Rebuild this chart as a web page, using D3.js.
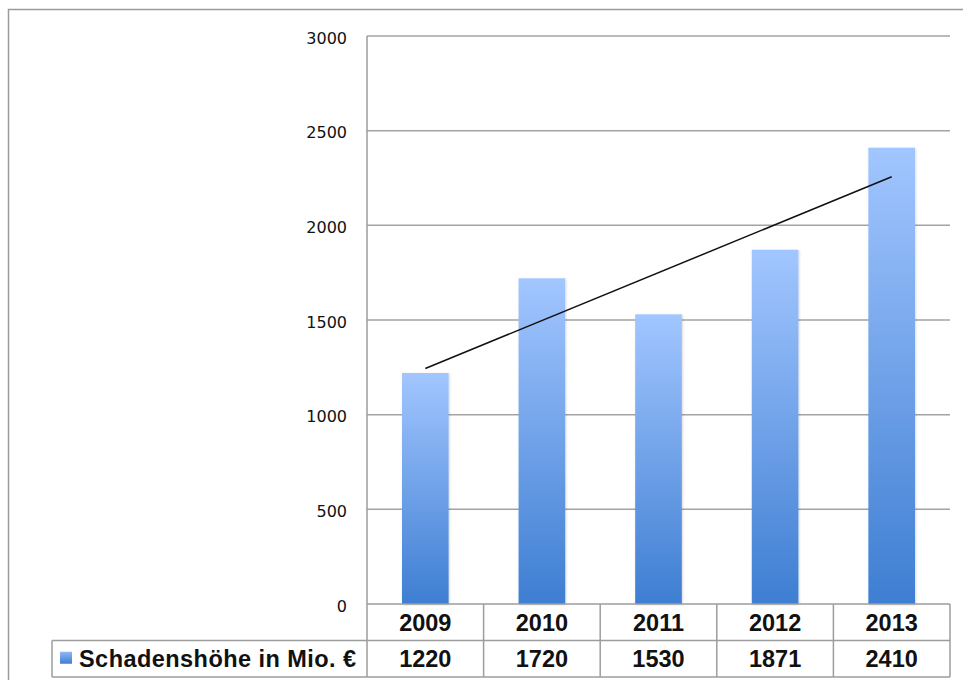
<!DOCTYPE html>
<html>
<head>
<meta charset="utf-8">
<script src="https://cdn.jsdelivr.net/npm/d3@7"></script>
<style>
  body { margin: 0; background: #fff; }
  svg { display: block; }
</style>
</head>
<body>
<script>
// chart data
const years = ["2009", "2010", "2011", "2012", "2013"];
const schaden = [1220, 1720, 1530, 1871, 2410];
const seriesName = "Schadenshöhe in Mio. €";
const yTicks = [0, 500, 1000, 1500, 2000, 2500, 3000];

const W = 963, H = 680;
const plotL = 367, plotR = 950, plotT = 36, plotB = 604;
const rowH = 36.5;

const svg = d3.select("body").append("svg")
    .attr("width", W)
    .attr("height", H);

// outer frame (right/bottom run off the picture)
svg.append("rect")
    .attr("x", 8.5).attr("y", 9.5)
    .attr("width", W + 20).attr("height", H + 20)
    .attr("fill", "none")
    .attr("stroke", "#9a9a9a")
    .attr("stroke-width", 1.5);

const x = d3.scaleBand()
    .domain(years)
    .range([plotL, plotR])
    .paddingInner(0)
    .paddingOuter(0);

const y = d3.scaleLinear()
    .domain([0, 3000])
    .range([plotB, plotT]);

// gradient for bars
const defs = svg.append("defs");
const grad = defs.append("linearGradient")
    .attr("id", "barGrad")
    .attr("x1", 0).attr("y1", 0).attr("x2", 0).attr("y2", 1);
grad.append("stop").attr("offset", "0%").attr("stop-color", "#a2c6ff");
grad.append("stop").attr("offset", "100%").attr("stop-color", "#3e7ed2");

const legGrad = defs.append("linearGradient")
    .attr("id", "legGrad")
    .attr("x1", 0).attr("y1", 0).attr("x2", 0).attr("y2", 1);
legGrad.append("stop").attr("offset", "0%").attr("stop-color", "#8fb8f5");
legGrad.append("stop").attr("offset", "100%").attr("stop-color", "#3e7ed2");

const filt = defs.append("filter").attr("id", "shadow")
    .attr("x", "-20%").attr("y", "-5%").attr("width", "140%").attr("height", "110%");
filt.append("feDropShadow")
    .attr("dx", 0.8).attr("dy", 0.8).attr("stdDeviation", 1)
    .attr("flood-color", "#000").attr("flood-opacity", 0.18);

// gridlines
svg.append("g")
    .selectAll("line")
    .data(yTicks.filter(d => d > 0))
    .enter().append("line")
    .attr("x1", plotL).attr("x2", plotR)
    .attr("y1", d => y(d)).attr("y2", d => y(d))
    .attr("stroke", "#a3a3a3")
    .attr("stroke-width", 1.5);

// y axis labels
svg.append("g")
    .selectAll("text")
    .data(yTicks)
    .enter().append("text")
    .attr("x", 347)
    .attr("y", d => y(d) + 2)
    .attr("dy", "0.35em")
    .attr("text-anchor", "end")
    .attr("font-family", "DejaVu Sans, sans-serif")
    .attr("font-size", 16)
    .attr("fill", "#111")
    .text(d => d);

// bars
const barW = x.bandwidth() * 0.4;
svg.append("g")
    .selectAll("rect")
    .data(schaden)
    .enter().append("rect")
    .attr("x", (d, i) => x(years[i]) + (x.bandwidth() - barW) / 2)
    .attr("y", d => y(d))
    .attr("width", barW)
    .attr("height", d => y(0) - y(d))
    .attr("fill", "url(#barGrad)")
    .attr("filter", "url(#shadow)");

// linear trendline (least squares over the bars)
const n = schaden.length;
const xs = d3.range(1, n + 1);
const mx = d3.mean(xs), my = d3.mean(schaden);
const slope = d3.sum(xs, (v, i) => (v - mx) * (schaden[i] - my)) / d3.sum(xs, v => (v - mx) * (v - mx));
const icpt = my - slope * mx;
const trend = [xs[0], xs[n - 1]].map(v => ({ year: years[v - 1], val: icpt + slope * v }));
svg.append("path")
    .datum(trend)
    .attr("fill", "none")
    .attr("stroke", "#111")
    .attr("stroke-width", 1.5)
    .attr("d", d3.line()
        .x(d => x(d.year) + x.bandwidth() / 2)
        .y(d => y(d.val)));

// data table
const tbl = svg.append("g");
const gray = "#9d9d9d";
// left axis line
tbl.append("line")
    .attr("x1", plotL).attr("x2", plotL)
    .attr("y1", plotT).attr("y2", plotB + rowH * 2)
    .attr("stroke", gray).attr("stroke-width", 1.5);
// horizontal lines
[plotB, plotB + rowH, plotB + rowH * 2].forEach((yy, i) => {
    tbl.append("line")
        .attr("x1", i === 0 ? plotL : 52).attr("x2", plotR)
        .attr("y1", yy).attr("y2", yy)
        .attr("stroke", gray).attr("stroke-width", 1.5);
});
// vertical separators
years.forEach(yr => {
    tbl.append("line")
        .attr("x1", x(yr) + x.bandwidth()).attr("x2", x(yr) + x.bandwidth())
        .attr("y1", plotB).attr("y2", plotB + rowH * 2)
        .attr("stroke", gray).attr("stroke-width", 1.5);
});
tbl.append("line")
    .attr("x1", 52).attr("x2", 52)
    .attr("y1", plotB + rowH).attr("y2", plotB + rowH * 2)
    .attr("stroke", gray).attr("stroke-width", 1.5);

const boldFont = "Liberation Sans, Arial, sans-serif";
const tSize = 23.5;
tbl.selectAll("text.yr")
    .data(years)
    .enter().append("text")
    .attr("class", "yr")
    .attr("x", d => x(d) + x.bandwidth() / 2)
    .attr("y", plotB + rowH / 2)
    .attr("dy", "0.36em")
    .attr("text-anchor", "middle")
    .attr("font-family", boldFont)
    .attr("font-weight", "bold")
    .attr("font-size", tSize)
    .attr("fill", "#111")
    .text(d => d);

tbl.selectAll("text.val")
    .data(schaden)
    .enter().append("text")
    .attr("class", "val")
    .attr("x", (d, i) => x(years[i]) + x.bandwidth() / 2)
    .attr("y", plotB + rowH * 1.5)
    .attr("dy", "0.36em")
    .attr("text-anchor", "middle")
    .attr("font-family", boldFont)
    .attr("font-weight", "bold")
    .attr("font-size", tSize)
    .attr("fill", "#111")
    .text(d => d);

// legend key inside the table
tbl.append("rect")
    .attr("x", 60).attr("y", plotB + rowH * 1.5 - 7)
    .attr("width", 12).attr("height", 12)
    .attr("fill", "url(#legGrad)");
tbl.append("text")
    .attr("x", 79)
    .attr("y", plotB + rowH * 1.5)
    .attr("dy", "0.36em")
    .attr("font-family", boldFont)
    .attr("font-weight", "bold")
    .attr("font-size", tSize)
    .attr("letter-spacing", 0.45)
    .attr("fill", "#111")
    .text(seriesName);
</script>
</body>
</html>
